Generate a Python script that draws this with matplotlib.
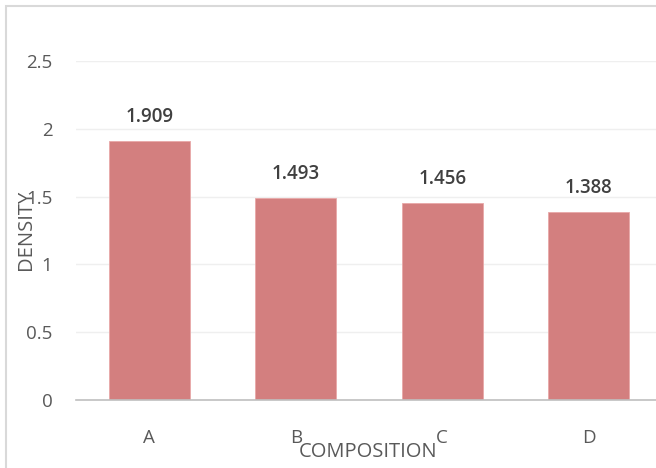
import matplotlib
matplotlib.use("Agg")
import matplotlib.pyplot as plt
from matplotlib.patches import Rectangle

categories = ["A", "B", "C", "D"]
density = [1.909, 1.493, 1.456, 1.388]
yticks = [0, 0.5, 1, 1.5, 2, 2.5]
ytick_labels = ["0", "0.5", "1", "1.5", "2", "2.5"]

plt.rcParams["font.family"] = ["Open Sans", "DejaVu Sans"]

W, H = 656, 468
fig = plt.figure(figsize=(W / 100, H / 100), dpi=100)
fig.patch.set_facecolor("white")

# light frame around the chart area
fig.add_artist(Rectangle((6 / W, -0.1), 1.2, (H - 6) / H + 0.1, transform=fig.transFigure,
                         fill=False, edgecolor="#d9d9d9", linewidth=1.5))

left, right = 76, 662
bottom, top = 400, 61
ax = fig.add_axes([left / W, (H - bottom) / H, (right - left) / W, (bottom - top) / H])
ax.set_facecolor("none")

x = range(len(categories))
bars = ax.bar(x, density, width=0.55, color="#d37f7f", edgecolor="#e8a8a8", linewidth=0.6, zorder=3)

for xi, v in zip(x, density):
    ax.annotate(f"{v:.3f}", (xi, v), xytext=(0, 10), textcoords="offset points",
                ha="center", va="bottom", fontsize=13.5, fontweight="semibold", color="#404040")

ax.set_xlim(-0.5, len(categories) - 0.5)
ax.set_ylim(0, 2.5)
ax.set_yticks(yticks)
ax.set_yticklabels(ytick_labels)
ax.set_xticks(list(x))
ax.set_xticklabels(categories)
ax.tick_params(axis="both", length=0, labelsize=13.5, labelcolor="#595959")
ax.tick_params(axis="y", pad=17)
ax.tick_params(axis="x", pad=21)

ax.grid(axis="y", color="#efefef", linewidth=1, zorder=0)
for s in ["top", "right", "left"]:
    ax.spines[s].set_visible(False)
ax.spines["bottom"].set_color("#bfbfbf")
ax.spines["bottom"].set_linewidth(1.2)
ax.spines["bottom"].set_zorder(4)

fig.text(368 / W, 1 - 452 / H, "COMPOSITION", ha="center", va="center",
         fontsize=14.5, color="#595959")
fig.text(26 / W, 1 - 230 / H, "DENSITY", ha="center", va="center", rotation=90,
         fontsize=14.5, color="#595959")

fig.savefig("out.png", dpi=100)
